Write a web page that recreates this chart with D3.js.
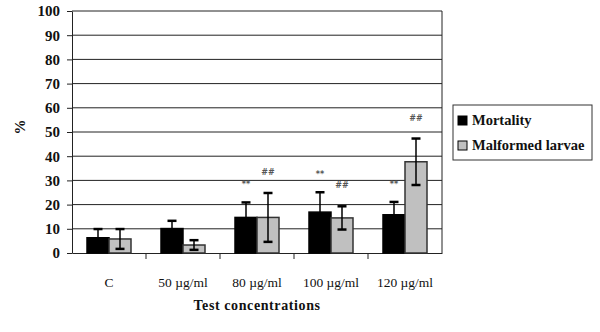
<!DOCTYPE html>
<html>
<head>
<meta charset="utf-8">
<script src="https://cdn.jsdelivr.net/npm/d3@7"></script>
<style>
  body { margin: 0; background: #fff; }
  text { font-family: "Liberation Serif", "Times New Roman", serif; }
</style>
</head>
<body>
<div id="chart"></div>
<script>
// data
const categories = ["C", "50 µg/ml", "80 µg/ml", "100 µg/ml", "120 µg/ml"];
const seriesNames = ["Mortality", "Malformed larvae"];
const mortality = [6.3, 10.1, 14.7, 16.9, 15.8];
const mortalityErr = [3.6, 3.2, 6.2, 8.2, 5.3];
const malformed = [5.8, 3.3, 14.7, 14.5, 37.7];
const malformedErr = [4.1, 2.0, 10.1, 4.8, 9.6];
const mortalityMark = ["", "", "**", "**", "**"];
const malformedMark = ["", "", "##", "##", "##"];
const yTicks = [0, 10, 20, 30, 40, 50, 60, 70, 80, 90, 100];

const W = 600, H = 332;
const margin = {top: 11, right: 158, bottom: 79, left: 72};
const width = W - margin.left - margin.right,
    height = H - margin.top - margin.bottom;

const svg = d3.select("#chart")
    .append("svg")
    .attr("width", W)
    .attr("height", H)
    .append("g")
    .attr("transform", `translate(${margin.left},${margin.top})`);

const x = d3.scaleBand()
    .domain(categories)
    .range([0, width]);

const y = d3.scaleLinear()
    .domain([0, 100])
    .range([height, 0]);

const xSub = d3.scaleBand()
    .domain(seriesNames)
    .range([15, x.bandwidth() - 15]);

const fill = d3.scaleOrdinal()
    .domain(seriesNames)
    .range(["#000000", "#c0c0c0"]);

// gridlines
svg.append("g")
    .selectAll("line")
    .data(yTicks.slice(1))
    .join("line")
    .attr("x1", 0)
    .attr("x2", width)
    .attr("y1", d => y(d))
    .attr("y2", d => y(d))
    .attr("stroke", "#222")
    .attr("stroke-width", 1);

// right border of plot area
svg.append("line")
    .attr("x1", width).attr("x2", width)
    .attr("y1", 0).attr("y2", height)
    .attr("stroke", "#222");

// y axis
const yAxis = svg.append("g")
    .call(d3.axisLeft(y).tickValues(yTicks).tickSize(5).tickSizeOuter(0).tickPadding(7));
yAxis.select(".domain").attr("stroke", "#222");
yAxis.selectAll(".tick line").attr("stroke", "#222");
yAxis.selectAll("text")
    .style("font-family", "'Liberation Serif', serif")
    .style("font-size", "15px")
    .style("font-weight", "bold")
    .attr("fill", "#111");

// x axis
const xAxis = svg.append("g")
    .attr("transform", `translate(0,${height})`)
    .call(d3.axisBottom(x).tickSize(0).tickPadding(24));
xAxis.select(".domain").attr("stroke", "#222");
xAxis.selectAll("text")
    .style("font-family", "'Liberation Serif', serif")
    .style("font-size", "13.5px")
    .attr("fill", "#111");

// category separators
svg.append("g")
    .selectAll("line")
    .data(categories.slice(1))
    .join("line")
    .attr("x1", d => x(d))
    .attr("x2", d => x(d))
    .attr("y1", height)
    .attr("y2", height + 6)
    .attr("stroke", "#222");

const rows = categories.map((c, i) => [
    {cat: c, key: seriesNames[0], value: mortality[i], err: mortalityErr[i], mark: mortalityMark[i], off: 15},
    {cat: c, key: seriesNames[1], value: malformed[i], err: malformedErr[i], mark: malformedMark[i], off: 18}
]);

const groups = svg.append("g")
    .selectAll("g")
    .data(rows)
    .join("g")
    .attr("transform", d => `translate(${x(d[0].cat)},0)`);

// bars
groups.selectAll("rect")
    .data(d => d)
    .join("rect")
    .attr("x", d => xSub(d.key))
    .attr("y", d => y(d.value))
    .attr("width", xSub.bandwidth())
    .attr("height", d => height - y(d.value))
    .attr("fill", d => fill(d.key))
    .attr("stroke", d => d.key === seriesNames[0] ? "#000" : "#333")
    .attr("stroke-width", 1.5);

// error bars
const eb = groups.selectAll("g.err")
    .data(d => d)
    .join("g")
    .attr("class", "err")
    .attr("transform", d => `translate(${xSub(d.key) + xSub.bandwidth() / 2},0)`);

eb.append("line")
    .attr("y1", d => y(d.value + d.err))
    .attr("y2", d => y(Math.max(0, d.value - d.err)))
    .attr("stroke", "#000")
    .attr("stroke-width", 1.5);

eb.append("line")
    .attr("x1", -4.5).attr("x2", 4.5)
    .attr("y1", d => y(d.value + d.err))
    .attr("y2", d => y(d.value + d.err))
    .attr("stroke", "#000")
    .attr("stroke-width", 2.5);

eb.append("line")
    .attr("x1", -4.5).attr("x2", 4.5)
    .attr("y1", d => y(Math.max(0, d.value - d.err)))
    .attr("y2", d => y(Math.max(0, d.value - d.err)))
    .attr("stroke", "#000")
    .attr("stroke-width", 2.5);

// significance marks
eb.append("text")
    .attr("text-anchor", "middle")
    .attr("y", d => y(d.value + d.err) - d.off)
    .style("font-family", "'DejaVu Sans', sans-serif")
    .style("font-size", "8px")
    .style("font-weight", "bold")
    .attr("fill", "#555")
    .text(d => d.mark);

// y label
svg.append("text")
    .attr("transform", `translate(-47,${height / 2 - 5}) rotate(-90)`)
    .attr("text-anchor", "middle")
    .style("font-size", "15px")
    .style("font-weight", "bold")
    .attr("fill", "#111")
    .text("%");

// x label
svg.append("text")
    .attr("x", width / 2)
    .attr("y", height + 57)
    .attr("text-anchor", "middle")
    .style("font-size", "14px")
    .style("font-weight", "bold")
    .style("letter-spacing", "0.6px")
    .attr("fill", "#111")
    .text("Test concentrations");

// legend
const legend = svg.append("g")
    .attr("transform", `translate(${453 - margin.left},${105 - margin.top})`);
legend.append("rect")
    .attr("width", 139)
    .attr("height", 55)
    .attr("fill", "#fff")
    .attr("stroke", "#333");
const li = legend.selectAll("g")
    .data(seriesNames)
    .join("g")
    .attr("transform", (d, i) => `translate(5,${11 + i * 25})`);
li.append("rect")
    .attr("width", 9)
    .attr("height", 9)
    .attr("fill", d => fill(d))
    .attr("stroke", "#000");
li.append("text")
    .attr("x", 14)
    .attr("y", 9)
    .style("font-family", "'Liberation Serif', serif")
    .style("font-size", "14.5px")
    .style("font-weight", "bold")
    .attr("fill", "#111")
    .text(d => d);
</script>
</body>
</html>
